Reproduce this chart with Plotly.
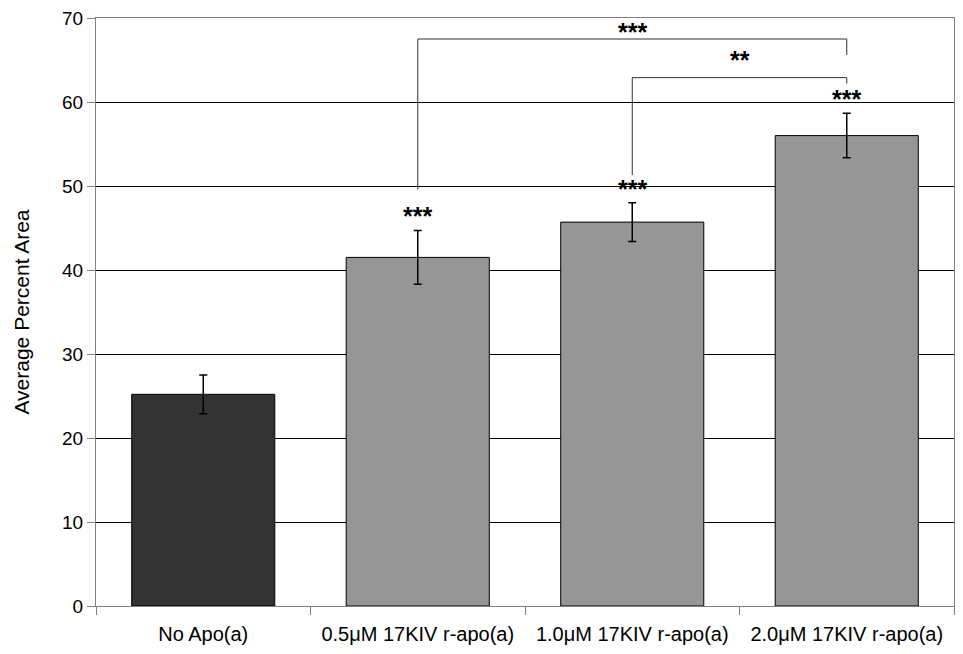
import plotly.graph_objects as go

# Mean percent area per treatment, with standard error
categories = ["No Apo(a)", "0.5μM 17KIV r-apo(a)", "1.0μM 17KIV r-apo(a)", "2.0μM 17KIV r-apo(a)"]
mean_area = [25.2, 41.5, 45.7, 56.0]
std_err = [2.3, 3.2, 2.3, 2.65]
bar_colors = ["#333333", "#969696", "#969696", "#969696"]

# Significance markers above individual bars (category index, label, y)
bar_marks = [(1, "***", 46.4), (2, "***", 49.6), (3, "***", 60.4)]

# Comparison brackets: left index, right index, left foot, top, right foot, label, label y
brackets = [
    (1, 3, 49.6, 67.5, 65.6, "***", 68.3),
    (2, 3, 51.3, 62.9, 62.2, "**", 65.0),
]

FONT = "Liberation Sans, Arial, sans-serif"
STAR_FONT = dict(family=FONT, size=25, color="#000000")

fig = go.Figure(
    go.Bar(
        x=categories,
        y=mean_area,
        marker=dict(color=bar_colors, line=dict(color="#000000", width=1)),
        error_y=dict(type="data", array=std_err, color="#000000", thickness=1.5, width=4),
        showlegend=False,
    )
)

shapes = []
annotations = []
for left, right, foot_l, top, foot_r, label, label_y in brackets:
    line = dict(type="line", xref="x", yref="y", line=dict(color="#303030", width=1))
    shapes.append(dict(line, x0=left, x1=left, y0=foot_l, y1=top))
    shapes.append(dict(line, x0=left, x1=right, y0=top, y1=top))
    shapes.append(dict(line, x0=right, x1=right, y0=top, y1=foot_r))
    annotations.append(dict(x=(left + right) / 2, y=label_y, xref="x", yref="y",
                            text="<b>" + label + "</b>",
                            showarrow=False, yanchor="middle", font=STAR_FONT))

for idx, label, label_y in bar_marks:
    annotations.append(dict(x=idx, y=label_y, xref="x", yref="y",
                            text="<b>" + label + "</b>",
                            showarrow=False, yanchor="middle", font=STAR_FONT))

fig.update_layout(
    width=963,
    height=654,
    margin=dict(l=96, r=8, t=16, b=48),
    paper_bgcolor="#ffffff",
    plot_bgcolor="#ffffff",
    bargap=0.333,
    shapes=shapes,
    annotations=annotations,
    font=dict(family=FONT, color="#000000"),
    xaxis=dict(
        type="category",
        showline=True, linecolor="#808080", linewidth=1, mirror=True,
        ticks="outside", tickson="boundaries", ticklen=8, tickcolor="#808080",
        tickfont=dict(family=FONT, size=20, color="#000000"),
        ticklabelstandoff=10,
        showgrid=False,
    ),
    yaxis=dict(
        range=[0, 70], dtick=10,
        showline=True, linecolor="#808080", linewidth=1, mirror=True,
        ticks="outside", ticklen=8, tickcolor="#808080",
        tickfont=dict(family=FONT, size=19, color="#000000"),
        showgrid=True, gridcolor="#000000", gridwidth=1,
        zeroline=False,
        title=dict(text="Average Percent Area", font=dict(family=FONT, size=21, color="#000000"),
                   standoff=26),
    ),
)

fig.write_html("out.html")
